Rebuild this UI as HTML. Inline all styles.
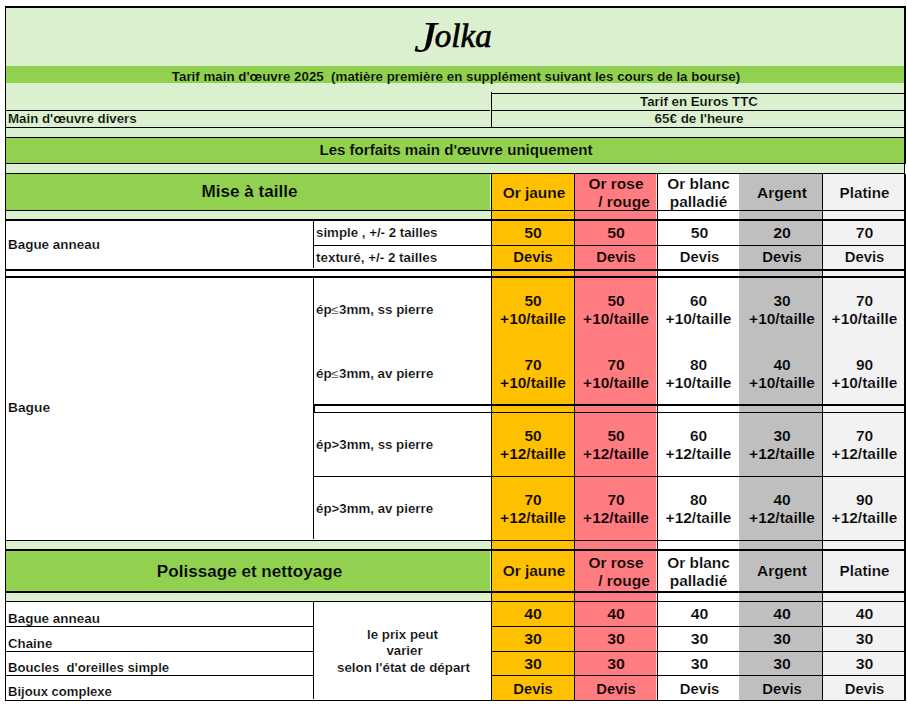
<!DOCTYPE html>
<html><head><meta charset="utf-8"><title>Jolka</title>
<style>
html,body{margin:0;padding:0;background:#fff;}
body{width:907px;height:705px;position:relative;overflow:hidden;font-family:"Liberation Sans",sans-serif;font-weight:bold;color:#000;}
body>div{position:absolute;}
.t{white-space:nowrap;}
</style></head><body>
<div style="left:5px;top:6px;width:900px;height:695px;background:#ffffff"></div>
<div style="left:6px;top:8px;width:898px;height:58px;background:#daf0cf"></div>
<div style="left:6px;top:66px;width:898px;height:17px;background:#92d050"></div>
<div style="left:6px;top:83px;width:898px;height:55px;background:#daf0cf"></div>
<div style="left:6px;top:138px;width:898px;height:25px;background:#92d050"></div>
<div style="left:6px;top:163px;width:898px;height:11px;background:#daf0cf"></div>
<div style="left:6px;top:174px;width:485px;height:36px;background:#92d050"></div>
<div style="left:6px;top:210px;width:485px;height:10px;background:#daf0cf"></div>
<div style="left:6px;top:541px;width:485px;height:8px;background:#daf0cf"></div>
<div style="left:6px;top:549px;width:485px;height:43px;background:#92d050"></div>
<div style="left:6px;top:592px;width:485px;height:9px;background:#daf0cf"></div>
<div style="left:492px;top:174px;width:82px;height:526px;background:#ffc000"></div>
<div style="left:574px;top:174px;width:83px;height:526px;background:#ff7c80"></div>
<div style="left:657px;top:174px;width:82px;height:526px;background:#ffffff"></div>
<div style="left:739px;top:174px;width:83px;height:526px;background:#bfbfbf"></div>
<div style="left:822px;top:174px;width:82px;height:526px;background:#f2f2f2"></div>
<div style="left:656px;top:174px;width:1px;height:526px;background:#ffd9da"></div>
<div style="left:490px;top:174px;width:1px;height:46px;background:#dcf2c4"></div>
<div style="left:490px;top:541px;width:1px;height:61px;background:#dcf2c4"></div>
<div style="left:5px;top:6px;width:901px;height:2px;background:#000"></div>
<div style="left:5px;top:6px;width:1px;height:695px;background:#000"></div>
<div style="left:904px;top:6px;width:2px;height:695px;background:#000"></div>
<div style="left:5px;top:700px;width:901px;height:1px;background:#000"></div>
<div style="left:905px;top:164px;width:1px;height:10px;background:#ffffff"></div>
<div style="left:491px;top:93px;width:413px;height:1px;background:#000"></div>
<div style="left:491px;top:92px;width:1px;height:36px;background:#000"></div>
<div style="left:6px;top:110px;width:898px;height:1px;background:#000"></div>
<div style="left:490px;top:110px;width:1px;height:1px;background:#daf0cf"></div>
<div style="left:6px;top:127px;width:898px;height:1px;background:#000"></div>
<div style="left:6px;top:137px;width:898px;height:1px;background:#000"></div>
<div style="left:6px;top:163px;width:898px;height:1px;background:#000"></div>
<div style="left:6px;top:173px;width:898px;height:1px;background:#000"></div>
<div style="left:6px;top:210px;width:898px;height:1px;background:#000"></div>
<div style="left:6px;top:219px;width:898px;height:2px;background:#000"></div>
<div style="left:313px;top:245px;width:591px;height:1px;background:#000"></div>
<div style="left:6px;top:269px;width:898px;height:2px;background:#000"></div>
<div style="left:6px;top:276px;width:898px;height:2px;background:#000"></div>
<div style="left:313px;top:404px;width:591px;height:2px;background:#000"></div>
<div style="left:313px;top:412px;width:591px;height:1px;background:#000"></div>
<div style="left:313px;top:476px;width:591px;height:1px;background:#000"></div>
<div style="left:6px;top:540px;width:898px;height:1px;background:#000"></div>
<div style="left:6px;top:549px;width:898px;height:2px;background:#000"></div>
<div style="left:6px;top:591px;width:898px;height:2px;background:#000"></div>
<div style="left:6px;top:601px;width:898px;height:1px;background:#000"></div>
<div style="left:6px;top:626px;width:307px;height:1px;background:#000"></div>
<div style="left:491px;top:626px;width:413px;height:1px;background:#000"></div>
<div style="left:6px;top:651px;width:307px;height:1px;background:#000"></div>
<div style="left:491px;top:651px;width:413px;height:1px;background:#000"></div>
<div style="left:6px;top:675px;width:307px;height:1px;background:#000"></div>
<div style="left:491px;top:675px;width:413px;height:1px;background:#000"></div>
<div style="left:313px;top:221px;width:1px;height:47px;background:#000"></div>
<div style="left:313px;top:278px;width:1px;height:261px;background:#000"></div>
<div style="left:313px;top:602px;width:1px;height:97px;background:#000"></div>
<div style="left:313px;top:404px;width:2px;height:9px;background:#000"></div>
<div style="left:491px;top:174px;width:1px;height:526px;background:#000"></div>
<div style="left:574px;top:174px;width:1px;height:526px;background:#000"></div>
<div style="left:657px;top:174px;width:1px;height:526px;background:#000"></div>
<div style="left:822px;top:174px;width:1px;height:526px;background:#000"></div>
<div class="t" style="left:355px;top:14px;width:200px;font-family:'Liberation Serif',serif;font-style:italic;font-weight:normal;-webkit-text-stroke:0.7px #000;font-size:33px;line-height:44px;text-align:center;"><span style="font-size:45px;line-height:10px;position:relative;top:4.6px;left:-1.5px;display:inline-block;transform:scaleX(1.15);transform-origin:100% 50%;margin-right:-3.5px;-webkit-text-stroke:0.15px #000">J</span>olka</div>
<div class="t" style="left:5.5px;top:68.5px;width:900px;font-size:12.2px;line-height:16px;text-align:center;transform:scaleX(1.094);transform-origin:50% 50%;-webkit-text-stroke:0.2px #92d050;">Tarif main d'œuvre 2025&nbsp; (matière première en supplément suivant les cours de la bourse)</div>
<div class="t" style="left:493px;top:94px;width:412px;font-size:12.2px;line-height:16px;text-align:center;transform:scaleX(1.09);transform-origin:50% 50%;-webkit-text-stroke:0.2px #daf0cf;">Tarif en Euros TTC</div>
<div class="t" style="left:8px;top:111px;width:300px;font-size:12.2px;line-height:16px;text-align:left;transform:scaleX(1.09);transform-origin:0 50%;-webkit-text-stroke:0.2px #daf0cf;">Main d'œuvre divers</div>
<div class="t" style="left:493px;top:111px;width:412px;font-size:12.2px;line-height:16px;text-align:center;transform:scaleX(1.1);transform-origin:50% 50%;-webkit-text-stroke:0.2px #daf0cf;">65€ de l'heure</div>
<div class="t" style="left:6px;top:140.5px;width:900px;font-size:14px;line-height:18px;text-align:center;transform:scaleX(1.076);transform-origin:50% 50%;-webkit-text-stroke:0.2px #92d050;">Les forfaits main d'œuvre uniquement</div>
<div class="t" style="left:7px;top:182.2px;width:485px;font-size:15.7px;line-height:20px;text-align:center;transform:scaleX(1.09);transform-origin:50% 50%;-webkit-text-stroke:0.2px #92d050;">Mise à taille</div>
<div class="t" style="left:7px;top:561.5px;width:485px;font-size:15.7px;line-height:20px;text-align:center;transform:scaleX(1.09);transform-origin:50% 50%;-webkit-text-stroke:0.2px #92d050;">Polissage et nettoyage</div>
<div class="t" style="left:492.5px;top:184px;width:82px;font-size:14.2px;line-height:18px;text-align:center;transform:scaleX(1.09);transform-origin:50% 50%;-webkit-text-stroke:0.2px #ffc000;">Or jaune</div>
<div class="t" style="left:575px;top:175px;width:82px;font-size:14.2px;line-height:18px;text-align:center;transform:scaleX(1.09);transform-origin:50% 50%;-webkit-text-stroke:0.2px #ff7c80;">Or rose</div>
<div class="t" style="left:583px;top:193px;width:82px;font-size:14.2px;line-height:18px;text-align:center;transform:scaleX(1.09);transform-origin:50% 50%;-webkit-text-stroke:0.2px #ff7c80;">/ rouge</div>
<div class="t" style="left:658px;top:175px;width:81px;font-size:14.2px;line-height:18px;text-align:center;transform:scaleX(1.09);transform-origin:50% 50%;-webkit-text-stroke:0.2px #ffffff;">Or blanc<br>palladié</div>
<div class="t" style="left:741px;top:184px;width:82px;font-size:14.2px;line-height:18px;text-align:center;transform:scaleX(1.09);transform-origin:50% 50%;-webkit-text-stroke:0.2px #bfbfbf;">Argent</div>
<div class="t" style="left:824px;top:184px;width:81px;font-size:14.2px;line-height:18px;text-align:center;transform:scaleX(1.07);transform-origin:50% 50%;-webkit-text-stroke:0.2px #f2f2f2;">Platine</div>
<div class="t" style="left:492.5px;top:561.8px;width:82px;font-size:14.2px;line-height:18px;text-align:center;transform:scaleX(1.09);transform-origin:50% 50%;-webkit-text-stroke:0.2px #ffc000;">Or jaune</div>
<div class="t" style="left:575px;top:554px;width:82px;font-size:14.2px;line-height:18px;text-align:center;transform:scaleX(1.09);transform-origin:50% 50%;-webkit-text-stroke:0.2px #ff7c80;">Or rose</div>
<div class="t" style="left:583px;top:572px;width:82px;font-size:14.2px;line-height:18px;text-align:center;transform:scaleX(1.09);transform-origin:50% 50%;-webkit-text-stroke:0.2px #ff7c80;">/ rouge</div>
<div class="t" style="left:658px;top:554px;width:81px;font-size:14.2px;line-height:18px;text-align:center;transform:scaleX(1.09);transform-origin:50% 50%;-webkit-text-stroke:0.2px #ffffff;">Or blanc<br>palladié</div>
<div class="t" style="left:741px;top:561.8px;width:82px;font-size:14.2px;line-height:18px;text-align:center;transform:scaleX(1.09);transform-origin:50% 50%;-webkit-text-stroke:0.2px #bfbfbf;">Argent</div>
<div class="t" style="left:824px;top:561.8px;width:81px;font-size:14.2px;line-height:18px;text-align:center;transform:scaleX(1.07);transform-origin:50% 50%;-webkit-text-stroke:0.2px #f2f2f2;">Platine</div>
<div class="t" style="left:492px;top:223.7px;width:82px;font-size:14.2px;line-height:18px;text-align:center;transform:scaleX(1.12);transform-origin:50% 50%;-webkit-text-stroke:0.2px #ffc000;">50</div>
<div class="t" style="left:575px;top:223.7px;width:82px;font-size:14.2px;line-height:18px;text-align:center;transform:scaleX(1.12);transform-origin:50% 50%;-webkit-text-stroke:0.2px #ff7c80;">50</div>
<div class="t" style="left:658.5px;top:223.7px;width:81px;font-size:14.2px;line-height:18px;text-align:center;transform:scaleX(1.12);transform-origin:50% 50%;-webkit-text-stroke:0.2px #ffffff;">50</div>
<div class="t" style="left:741.2px;top:223.7px;width:82px;font-size:14.2px;line-height:18px;text-align:center;transform:scaleX(1.12);transform-origin:50% 50%;-webkit-text-stroke:0.2px #bfbfbf;">20</div>
<div class="t" style="left:824.3px;top:223.7px;width:81px;font-size:14.2px;line-height:18px;text-align:center;transform:scaleX(1.12);transform-origin:50% 50%;-webkit-text-stroke:0.2px #f2f2f2;">70</div>
<div class="t" style="left:492px;top:248.20000000000002px;width:82px;font-size:14.2px;line-height:18px;text-align:center;transform:scaleX(1.045);transform-origin:50% 50%;-webkit-text-stroke:0.2px #ffc000;">Devis</div>
<div class="t" style="left:575px;top:248.20000000000002px;width:82px;font-size:14.2px;line-height:18px;text-align:center;transform:scaleX(1.045);transform-origin:50% 50%;-webkit-text-stroke:0.2px #ff7c80;">Devis</div>
<div class="t" style="left:658.5px;top:248.20000000000002px;width:81px;font-size:14.2px;line-height:18px;text-align:center;transform:scaleX(1.045);transform-origin:50% 50%;-webkit-text-stroke:0.2px #ffffff;">Devis</div>
<div class="t" style="left:741.2px;top:248.20000000000002px;width:82px;font-size:14.2px;line-height:18px;text-align:center;transform:scaleX(1.045);transform-origin:50% 50%;-webkit-text-stroke:0.2px #bfbfbf;">Devis</div>
<div class="t" style="left:824.3px;top:248.20000000000002px;width:81px;font-size:14.2px;line-height:18px;text-align:center;transform:scaleX(1.045);transform-origin:50% 50%;-webkit-text-stroke:0.2px #f2f2f2;">Devis</div>
<div class="t" style="left:486.5px;top:291.7px;width:92px;font-size:14.2px;line-height:18.3px;text-align:center;transform:scaleX(1.09);transform-origin:50% 50%;-webkit-text-stroke:0.2px #ffc000;">50<br>+10/taille</div>
<div class="t" style="left:569.5px;top:291.7px;width:92px;font-size:14.2px;line-height:18.3px;text-align:center;transform:scaleX(1.09);transform-origin:50% 50%;-webkit-text-stroke:0.2px #ff7c80;">50<br>+10/taille</div>
<div class="t" style="left:653.0px;top:291.7px;width:91px;font-size:14.2px;line-height:18.3px;text-align:center;transform:scaleX(1.09);transform-origin:50% 50%;-webkit-text-stroke:0.2px #ffffff;">60<br>+10/taille</div>
<div class="t" style="left:735.7px;top:291.7px;width:92px;font-size:14.2px;line-height:18.3px;text-align:center;transform:scaleX(1.09);transform-origin:50% 50%;-webkit-text-stroke:0.2px #bfbfbf;">30<br>+10/taille</div>
<div class="t" style="left:818.8px;top:291.7px;width:91px;font-size:14.2px;line-height:18.3px;text-align:center;transform:scaleX(1.09);transform-origin:50% 50%;-webkit-text-stroke:0.2px #f2f2f2;">70<br>+10/taille</div>
<div class="t" style="left:486.5px;top:355.7px;width:92px;font-size:14.2px;line-height:18.3px;text-align:center;transform:scaleX(1.09);transform-origin:50% 50%;-webkit-text-stroke:0.2px #ffc000;">70<br>+10/taille</div>
<div class="t" style="left:569.5px;top:355.7px;width:92px;font-size:14.2px;line-height:18.3px;text-align:center;transform:scaleX(1.09);transform-origin:50% 50%;-webkit-text-stroke:0.2px #ff7c80;">70<br>+10/taille</div>
<div class="t" style="left:653.0px;top:355.7px;width:91px;font-size:14.2px;line-height:18.3px;text-align:center;transform:scaleX(1.09);transform-origin:50% 50%;-webkit-text-stroke:0.2px #ffffff;">80<br>+10/taille</div>
<div class="t" style="left:735.7px;top:355.7px;width:92px;font-size:14.2px;line-height:18.3px;text-align:center;transform:scaleX(1.09);transform-origin:50% 50%;-webkit-text-stroke:0.2px #bfbfbf;">40<br>+10/taille</div>
<div class="t" style="left:818.8px;top:355.7px;width:91px;font-size:14.2px;line-height:18.3px;text-align:center;transform:scaleX(1.09);transform-origin:50% 50%;-webkit-text-stroke:0.2px #f2f2f2;">90<br>+10/taille</div>
<div class="t" style="left:486.5px;top:426.7px;width:92px;font-size:14.2px;line-height:18.3px;text-align:center;transform:scaleX(1.09);transform-origin:50% 50%;-webkit-text-stroke:0.2px #ffc000;">50<br>+12/taille</div>
<div class="t" style="left:569.5px;top:426.7px;width:92px;font-size:14.2px;line-height:18.3px;text-align:center;transform:scaleX(1.09);transform-origin:50% 50%;-webkit-text-stroke:0.2px #ff7c80;">50<br>+12/taille</div>
<div class="t" style="left:653.0px;top:426.7px;width:91px;font-size:14.2px;line-height:18.3px;text-align:center;transform:scaleX(1.09);transform-origin:50% 50%;-webkit-text-stroke:0.2px #ffffff;">60<br>+12/taille</div>
<div class="t" style="left:735.7px;top:426.7px;width:92px;font-size:14.2px;line-height:18.3px;text-align:center;transform:scaleX(1.09);transform-origin:50% 50%;-webkit-text-stroke:0.2px #bfbfbf;">30<br>+12/taille</div>
<div class="t" style="left:818.8px;top:426.7px;width:91px;font-size:14.2px;line-height:18.3px;text-align:center;transform:scaleX(1.09);transform-origin:50% 50%;-webkit-text-stroke:0.2px #f2f2f2;">70<br>+12/taille</div>
<div class="t" style="left:486.5px;top:490.7px;width:92px;font-size:14.2px;line-height:18.3px;text-align:center;transform:scaleX(1.09);transform-origin:50% 50%;-webkit-text-stroke:0.2px #ffc000;">70<br>+12/taille</div>
<div class="t" style="left:569.5px;top:490.7px;width:92px;font-size:14.2px;line-height:18.3px;text-align:center;transform:scaleX(1.09);transform-origin:50% 50%;-webkit-text-stroke:0.2px #ff7c80;">70<br>+12/taille</div>
<div class="t" style="left:653.0px;top:490.7px;width:91px;font-size:14.2px;line-height:18.3px;text-align:center;transform:scaleX(1.09);transform-origin:50% 50%;-webkit-text-stroke:0.2px #ffffff;">80<br>+12/taille</div>
<div class="t" style="left:735.7px;top:490.7px;width:92px;font-size:14.2px;line-height:18.3px;text-align:center;transform:scaleX(1.09);transform-origin:50% 50%;-webkit-text-stroke:0.2px #bfbfbf;">40<br>+12/taille</div>
<div class="t" style="left:818.8px;top:490.7px;width:91px;font-size:14.2px;line-height:18.3px;text-align:center;transform:scaleX(1.09);transform-origin:50% 50%;-webkit-text-stroke:0.2px #f2f2f2;">90<br>+12/taille</div>
<div class="t" style="left:492px;top:604.6px;width:82px;font-size:14.2px;line-height:18px;text-align:center;transform:scaleX(1.12);transform-origin:50% 50%;-webkit-text-stroke:0.2px #ffc000;">40</div>
<div class="t" style="left:575px;top:604.6px;width:82px;font-size:14.2px;line-height:18px;text-align:center;transform:scaleX(1.12);transform-origin:50% 50%;-webkit-text-stroke:0.2px #ff7c80;">40</div>
<div class="t" style="left:658.5px;top:604.6px;width:81px;font-size:14.2px;line-height:18px;text-align:center;transform:scaleX(1.12);transform-origin:50% 50%;-webkit-text-stroke:0.2px #ffffff;">40</div>
<div class="t" style="left:741.2px;top:604.6px;width:82px;font-size:14.2px;line-height:18px;text-align:center;transform:scaleX(1.12);transform-origin:50% 50%;-webkit-text-stroke:0.2px #bfbfbf;">40</div>
<div class="t" style="left:824.3px;top:604.6px;width:81px;font-size:14.2px;line-height:18px;text-align:center;transform:scaleX(1.12);transform-origin:50% 50%;-webkit-text-stroke:0.2px #f2f2f2;">40</div>
<div class="t" style="left:492px;top:629.6px;width:82px;font-size:14.2px;line-height:18px;text-align:center;transform:scaleX(1.12);transform-origin:50% 50%;-webkit-text-stroke:0.2px #ffc000;">30</div>
<div class="t" style="left:575px;top:629.6px;width:82px;font-size:14.2px;line-height:18px;text-align:center;transform:scaleX(1.12);transform-origin:50% 50%;-webkit-text-stroke:0.2px #ff7c80;">30</div>
<div class="t" style="left:658.5px;top:629.6px;width:81px;font-size:14.2px;line-height:18px;text-align:center;transform:scaleX(1.12);transform-origin:50% 50%;-webkit-text-stroke:0.2px #ffffff;">30</div>
<div class="t" style="left:741.2px;top:629.6px;width:82px;font-size:14.2px;line-height:18px;text-align:center;transform:scaleX(1.12);transform-origin:50% 50%;-webkit-text-stroke:0.2px #bfbfbf;">30</div>
<div class="t" style="left:824.3px;top:629.6px;width:81px;font-size:14.2px;line-height:18px;text-align:center;transform:scaleX(1.12);transform-origin:50% 50%;-webkit-text-stroke:0.2px #f2f2f2;">30</div>
<div class="t" style="left:492px;top:654.6px;width:82px;font-size:14.2px;line-height:18px;text-align:center;transform:scaleX(1.12);transform-origin:50% 50%;-webkit-text-stroke:0.2px #ffc000;">30</div>
<div class="t" style="left:575px;top:654.6px;width:82px;font-size:14.2px;line-height:18px;text-align:center;transform:scaleX(1.12);transform-origin:50% 50%;-webkit-text-stroke:0.2px #ff7c80;">30</div>
<div class="t" style="left:658.5px;top:654.6px;width:81px;font-size:14.2px;line-height:18px;text-align:center;transform:scaleX(1.12);transform-origin:50% 50%;-webkit-text-stroke:0.2px #ffffff;">30</div>
<div class="t" style="left:741.2px;top:654.6px;width:82px;font-size:14.2px;line-height:18px;text-align:center;transform:scaleX(1.12);transform-origin:50% 50%;-webkit-text-stroke:0.2px #bfbfbf;">30</div>
<div class="t" style="left:824.3px;top:654.6px;width:81px;font-size:14.2px;line-height:18px;text-align:center;transform:scaleX(1.12);transform-origin:50% 50%;-webkit-text-stroke:0.2px #f2f2f2;">30</div>
<div class="t" style="left:492px;top:679.6px;width:82px;font-size:14.2px;line-height:18px;text-align:center;transform:scaleX(1.045);transform-origin:50% 50%;-webkit-text-stroke:0.2px #ffc000;">Devis</div>
<div class="t" style="left:575px;top:679.6px;width:82px;font-size:14.2px;line-height:18px;text-align:center;transform:scaleX(1.045);transform-origin:50% 50%;-webkit-text-stroke:0.2px #ff7c80;">Devis</div>
<div class="t" style="left:658.5px;top:679.6px;width:81px;font-size:14.2px;line-height:18px;text-align:center;transform:scaleX(1.045);transform-origin:50% 50%;-webkit-text-stroke:0.2px #ffffff;">Devis</div>
<div class="t" style="left:741.2px;top:679.6px;width:82px;font-size:14.2px;line-height:18px;text-align:center;transform:scaleX(1.045);transform-origin:50% 50%;-webkit-text-stroke:0.2px #bfbfbf;">Devis</div>
<div class="t" style="left:824.3px;top:679.6px;width:81px;font-size:14.2px;line-height:18px;text-align:center;transform:scaleX(1.045);transform-origin:50% 50%;-webkit-text-stroke:0.2px #f2f2f2;">Devis</div>
<div class="t" style="left:8px;top:237px;width:300px;font-size:12.2px;line-height:16px;text-align:left;transform:scaleX(1.103);transform-origin:0 50%;-webkit-text-stroke:0.2px #ffffff;">Bague anneau</div>
<div class="t" style="left:316px;top:225px;width:175px;font-size:12.2px;line-height:16px;text-align:left;transform:scaleX(1.09);transform-origin:0 50%;-webkit-text-stroke:0.2px #ffffff;">simple , +/- 2 tailles</div>
<div class="t" style="left:316px;top:250px;width:175px;font-size:12.2px;line-height:16px;text-align:left;transform:scaleX(1.1);transform-origin:0 50%;-webkit-text-stroke:0.2px #ffffff;">texturé, +/- 2 tailles</div>
<div class="t" style="left:8px;top:400px;width:300px;font-size:12.2px;line-height:16px;text-align:left;transform:scaleX(1.13);transform-origin:0 50%;-webkit-text-stroke:0.2px #ffffff;">Bague</div>
<div class="t" style="left:316.3px;top:302px;width:175px;font-size:12.2px;line-height:16px;text-align:left;transform:scaleX(1.097);transform-origin:0 50%;-webkit-text-stroke:0.2px #ffffff;">ép<span style="font-weight:normal">≤</span>3mm, ss pierre</div>
<div class="t" style="left:316.3px;top:366px;width:175px;font-size:12.2px;line-height:16px;text-align:left;transform:scaleX(1.097);transform-origin:0 50%;-webkit-text-stroke:0.2px #ffffff;">ép<span style="font-weight:normal">≤</span>3mm, av pierre</div>
<div class="t" style="left:316px;top:437px;width:175px;font-size:12.2px;line-height:16px;text-align:left;transform:scaleX(1.09);transform-origin:0 50%;-webkit-text-stroke:0.2px #ffffff;">ép&gt;3mm, ss pierre</div>
<div class="t" style="left:316px;top:501px;width:175px;font-size:12.2px;line-height:16px;text-align:left;transform:scaleX(1.09);transform-origin:0 50%;-webkit-text-stroke:0.2px #ffffff;">ép&gt;3mm, av pierre</div>
<div class="t" style="left:8px;top:611px;width:300px;font-size:12.2px;line-height:16px;text-align:left;transform:scaleX(1.103);transform-origin:0 50%;-webkit-text-stroke:0.2px #ffffff;">Bague anneau</div>
<div class="t" style="left:8px;top:636px;width:300px;font-size:12.2px;line-height:16px;text-align:left;transform:scaleX(1.09);transform-origin:0 50%;-webkit-text-stroke:0.2px #ffffff;">Chaine</div>
<div class="t" style="left:8px;top:660px;width:300px;font-size:12.2px;line-height:16px;text-align:left;transform:scaleX(1.08);transform-origin:0 50%;-webkit-text-stroke:0.2px #ffffff;">Boucles&nbsp; d'oreilles simple</div>
<div class="t" style="left:8px;top:684px;width:300px;font-size:12.2px;line-height:16px;text-align:left;transform:scaleX(1.072);transform-origin:0 50%;-webkit-text-stroke:0.2px #ffffff;">Bijoux complexe</div>
<div class="t" style="left:314px;top:626.8px;width:177px;font-size:12.2px;line-height:16.6px;text-align:center;transform:scaleX(1.09);transform-origin:50% 50%;-webkit-text-stroke:0.2px #ffffff;">le prix peut</div>
<div class="t" style="left:315.8px;top:643.4px;width:177px;font-size:12.2px;line-height:16.6px;text-align:center;transform:scaleX(1.09);transform-origin:50% 50%;-webkit-text-stroke:0.2px #ffffff;">varier</div>
<div class="t" style="left:314.5px;top:660px;width:177px;font-size:12.2px;line-height:16.6px;text-align:center;transform:scaleX(1.095);transform-origin:50% 50%;-webkit-text-stroke:0.2px #ffffff;">selon l'état de départ</div>
</body></html>
